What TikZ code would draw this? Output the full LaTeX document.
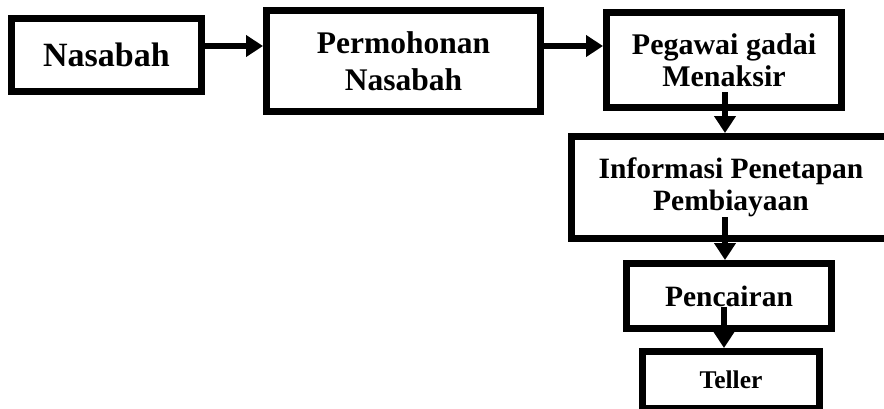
\documentclass[tikz,border=0pt]{standalone}
\usepackage{fontspec}
\setmainfont{Liberation Serif}
\usetikzlibrary{arrows.meta}
\begin{document}
\begin{tikzpicture}[x=1pt,y=-1pt,
  box/.style={draw=black, line width=7pt, fill=white, inner sep=0pt, align=center, font=\bfseries},
  arr/.style={line width=6.5pt, -{Triangle[length=17pt,width=21pt]}}]
\path[use as bounding box, clip] (0,0) rectangle (884,408);
\node[box, minimum width=190pt, minimum height=73pt, font=\bfseries\fontsize{34}{38}\selectfont] (nas) at (106.5,55) {Nasabah};
\node[box, minimum width=274pt, minimum height=101pt, font=\bfseries\fontsize{31.5}{37}\selectfont] (perm) at (403.5,61) {Permohonan\\Nasabah};
\node[box, minimum width=235pt, minimum height=95pt, font=\bfseries\fontsize{30}{32}\selectfont] (peg) at (724,60) {Pegawai gadai\\Menaksir};
\node[box, minimum width=319pt, minimum height=102pt, font=\bfseries\fontsize{29.5}{32.5}\selectfont] (info) at (731,187.5) {Informasi Penetapan\\Pembiayaan};
\node[box, minimum width=205pt, minimum height=65pt, font=\bfseries\fontsize{29.5}{33}\selectfont] (pen) at (729,296) {Pencairan};
\node[box, minimum width=177pt, minimum height=57pt, font=\bfseries\fontsize{25.5}{30}\selectfont] (tel) at (731,380) {Teller};
\coordinate (row) at (0,46);
\coordinate (s1) at (725,92);
\coordinate (s2) at (725,217);
\coordinate (s3) at (724,307);
\draw[arr] (nas.east |- row) -- (perm.west |- row);
\draw[arr] (perm.east |- row) -- (peg.west |- row);
\draw[arr] (s1) -- (s1 |- info.north);
\draw[arr] (s2) -- (s2 |- pen.north);
\draw[arr] (s3) -- (s3 |- tel.north);
\end{tikzpicture}
\end{document}
